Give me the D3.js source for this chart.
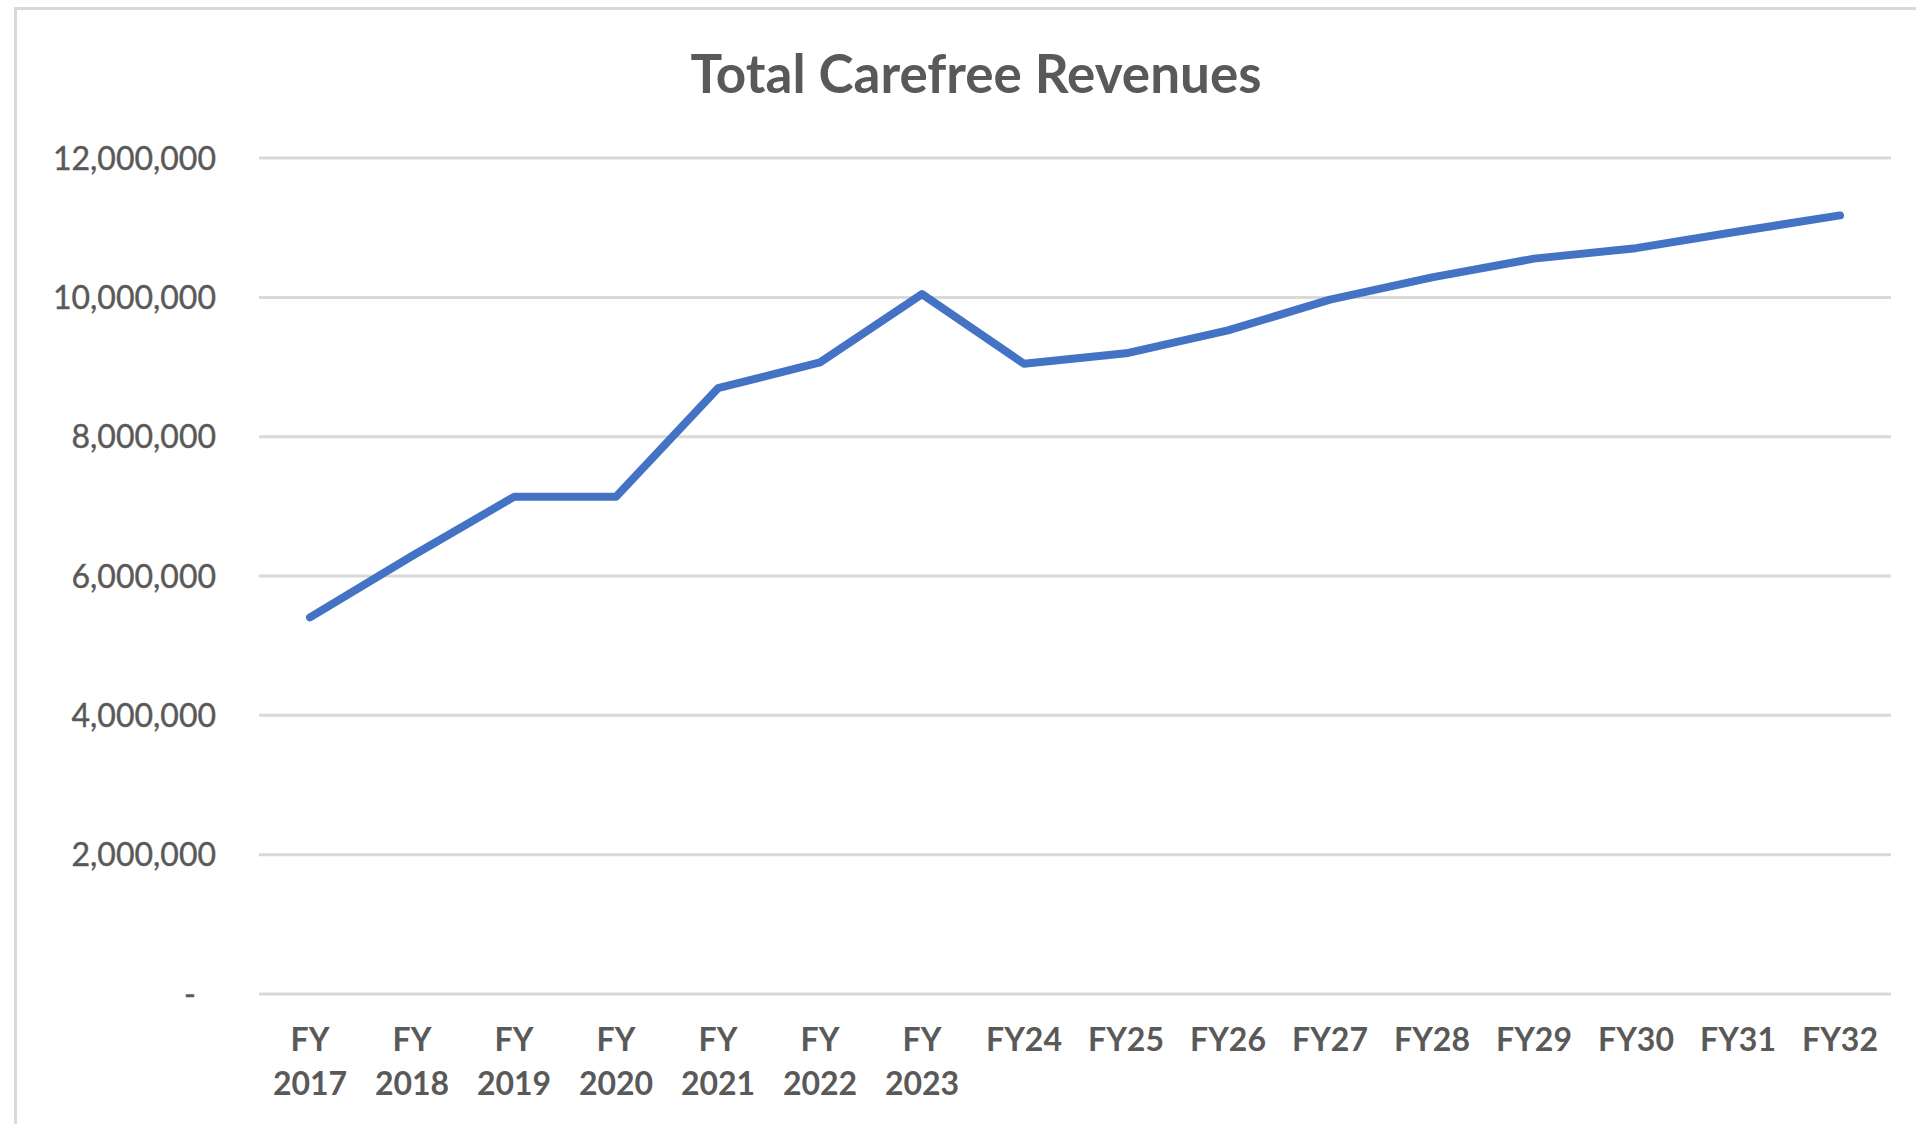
<!DOCTYPE html>
<html>
<head>
<meta charset="utf-8">
<script src="https://cdn.jsdelivr.net/npm/d3@7"></script>
<style>
  html, body { margin: 0; padding: 0; background: #fff; }
  svg { display: block; }
  .axis text { fill: #595959; font-family: Lato, "Open Sans", sans-serif; }
</style>
</head>
<body>
<div id="wrapper"></div>
<script>
// chart data
const categories = ["FY 2017", "FY 2018", "FY 2019", "FY 2020", "FY 2021", "FY 2022", "FY 2023",
                    "FY24", "FY25", "FY26", "FY27", "FY28", "FY29", "FY30", "FY31", "FY32"];
const revenues = [5400000, 6280000, 7130000, 7130000, 8690000, 9060000, 10040000,
                  9040000, 9190000, 9520000, 9960000, 10280000, 10550000, 10700000, 10940000, 11170000];
const yTicks = [0, 2000000, 4000000, 6000000, 8000000, 10000000, 12000000];
const chartTitle = "Total Carefree Revenues";

const width = 1916, height = 1124;
const plotLeft = 259, plotRight = 1891, plotTop = 157.6, plotBottom = 993.5;

let svg = d3.select("#wrapper")
            .append("svg")
            .attr("width", width)
            .attr("height", height);

svg.append("rect")
    .attr("width", width)
    .attr("height", height)
    .attr("fill", "#fff");

// chart frame, cut off at right and bottom like the screenshot
svg.append("rect")
    .attr("x", 15.5)
    .attr("y", 8.5)
    .attr("width", width + 40)
    .attr("height", height + 40)
    .attr("fill", "none")
    .attr("stroke", "#d9d9d9")
    .attr("stroke-width", 3);

let xScale = d3.scaleBand()
                .domain(categories)
                .range([plotLeft, plotRight]);

let yScale = d3.scaleLinear()
                .domain([0, 12000000])
                .range([plotBottom, plotTop]);

let yAxisFunction = d3.axisLeft(yScale)
                        .tickValues(yTicks)
                        .tickSize(-(plotRight - plotLeft))
                        .tickPadding(43)
                        .tickFormat(d => d === 0 ? "-" : d3.format(",")(d));

let yG = svg.append("g")
            .attr("class", "axis")
            .attr("transform", `translate(${plotLeft}, 0)`)
            .call(yAxisFunction);

yG.select(".domain").remove();
yG.selectAll(".tick line")
    .attr("stroke", "#d9d9d9")
    .attr("stroke-width", 3);
yG.selectAll(".tick text")
    .style("font-size", "32px")
    .style("stroke", "#595959")
    .style("stroke-width", 0.4)
    .attr("dy", "0.36em")
    .filter(d => d === 0)
    .attr("dx", -20);

let xAxisFunction = d3.axisBottom(xScale)
                        .tickSize(0)
                        .tickPadding(34.5);

let xG = svg.append("g")
            .attr("class", "axis")
            .attr("transform", `translate(0, ${plotBottom})`)
            .call(xAxisFunction);

xG.select(".domain").remove();
xG.selectAll(".tick text")
    .style("font-size", "32px")
    .style("font-weight", "700")
    .each(function(d) {
        let words = d.split(" ");
        let t = d3.select(this).text(null);
        words.forEach((w, i) => {
            t.append("tspan")
                .attr("x", 0)
                .attr("dy", i == 0 ? "0.71em" : "44px")
                .text(w);
        });
    });

const dMaker = d3.line()
            .x((d, i) => xScale(categories[i]) + xScale.bandwidth() / 2)
            .y(d => yScale(d))
            .curve(d3.curveLinear);

svg.append("path")
    .datum(revenues)
    .attr("d", dMaker)
    .attr("fill", "none")
    .attr("stroke", "#4472C4")
    .attr("stroke-width", 8)
    .attr("stroke-linecap", "round")
    .attr("stroke-linejoin", "round");

svg.append("text")
    .attr("x", 976)
    .attr("y", 93)
    .style("text-anchor", "middle")
    .style("fill", "#595959")
    .style("font-family", "Lato, 'Open Sans', sans-serif")
    .style("font-size", "53px")
    .style("font-weight", "700")
    .text(chartTitle);
</script>
</body>
</html>
